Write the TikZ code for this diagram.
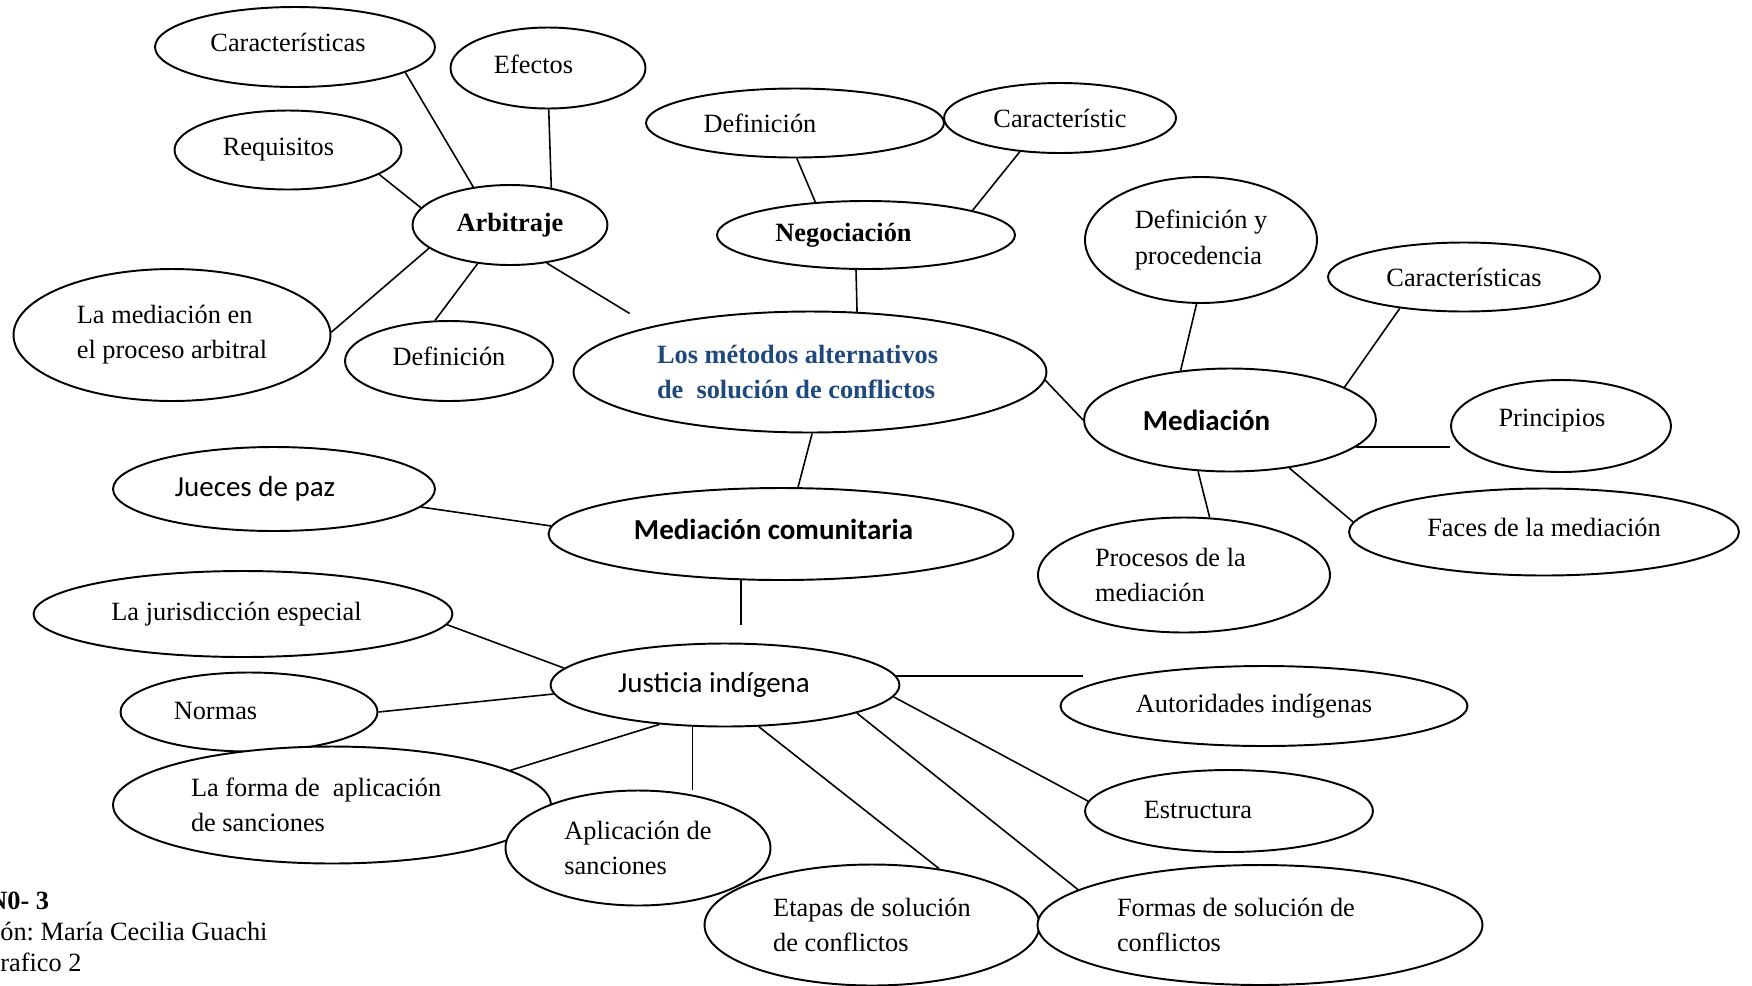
\documentclass[tikz,border=0pt]{standalone}
\usepackage{fontspec}
\setmainfont{Liberation Serif}
\newfontfamily\calibri{Carlito}
\usetikzlibrary{shapes.geometric}
\definecolor{titleblue}{HTML}{1F497D}
\frenchspacing

\begin{document}
\begin{tikzpicture}[
	x=0.02cm, y=-0.02cm,
	oval/.style = {
		ellipse,
		draw,
		fill=white,
		line width=1.1pt,
		inner sep=0pt,
		font=\fontsize{15}{20}\selectfont
	},
	two/.style = {oval, align=flush left},
	cal/.style = {font=\calibri\fontsize{16.5}{20}\selectfont},
	link/.style = {line width=0.9pt},
	note/.style = {anchor=base west, inner sep=0pt, font=\fontsize{15}{18}\selectfont},
]
	\useasboundingbox (0,0) rectangle (1752,985);

	% centro
	\node (cen) [oval, minimum width=9.46cm, minimum height=2.42cm, text width=6.12cm, align=flush left, text=titleblue,
		font=\bfseries\fontsize{15}{20}\selectfont] at (810,372) {Los métodos alternativos\\de~~solución de conflictos};

	% arbitraje
	\node (arb) [oval, minimum width=3.9cm, minimum height=1.6cm] at (510,225) {\bfseries Arbitraje};
	\node (car1) [oval, text depth=0.2cm, minimum width=5.6cm, minimum height=1.6cm] at (295,47) {Características\hspace*{0.28cm}};
	\node (efe) [oval, text depth=0.14cm, minimum width=3.9cm, minimum height=1.62cm] at (548,68) {Efectos\hspace*{0.58cm}};
	\node (req) [oval, minimum width=4.54cm, minimum height=1.58cm] at (288,150) {Requisitos\hspace*{0.38cm}};
	\node (medarb) [two, minimum width=6.34cm, minimum height=2.64cm] at (172,335) {La mediación en\\el proceso arbitral};
	\node (defa) [oval, text depth=0.2cm, minimum width=4.16cm, minimum height=1.6cm] at (449,361) {Definición};

	\draw[link] (car1.-13) -- (arb.134);
	\draw[link] (efe.-89) -- (arb.42);
	\draw[link] (req.-15) -- (arb.169);
	\draw[link] (arb.196) -- (medarb.1);
	\draw[link] (arb.230) -- (defa.109);
	\draw[link, shorten >=0.5cm] (arb.-46) -- (cen.164);

	% negociacion
	\node (neg) [oval, minimum width=5.96cm, minimum height=1.36cm] at (866,235) {\bfseries Negociación\hspace*{0.9cm}};
	\node (defn) [oval, minimum width=5.96cm, minimum height=1.38cm] at (795,123) {Definición\hspace*{1.4cm}};
	\node (carn) [oval, minimum width=4.64cm, minimum height=1.4cm] at (1060,118) {Característic};

	\draw[link] (defn.-87) -- (neg.147);
	\draw[link] (carn.220) -- (neg.13);
	\draw[link] (neg.-106) -- (cen.52);

	% mediacion
	\node (med) [oval, cal, minimum width=5.84cm, minimum height=2.06cm] at (1230,420) {\bfseries Mediación\hspace*{0.94cm}};
	\node (defm) [two, minimum width=4.64cm, minimum height=2.52cm] at (1201,240) {Definición y\\procedencia};
	\node (carm) [oval, minimum width=5.44cm, minimum height=1.38cm] at (1464,277) {Características};
	\node (pri) [oval, text depth=0.34cm, minimum width=4.4cm, minimum height=1.84cm] at (1561,426) {Principios\hspace*{0.36cm}};
	\node (fac) [oval, text depth=0.2cm, minimum width=7.8cm, minimum height=1.74cm] at (1544,532) {Faces de la mediación};
	\node (pro) [two, text width=3.56cm, minimum width=5.84cm, minimum height=2.3cm] at (1184,575) {Procesos de la\\mediación};

	\draw[link] (cen.-2) -- (med.west);
	\draw[link] (defm.-94) -- (med.135);
	\draw[link] (carm.206) -- (med.16);
	\draw[link] (med.-12) -- (med.-12 -| pri.west);
	\draw[link] (med.-39) -- (fac.177);
	\draw[link] (med.238) -- (pro.66);

	% mediacion comunitaria
	\node (com) [oval, cal, text depth=0.2cm, minimum width=9.3cm, minimum height=1.84cm] at (781,534) {\bfseries Mediación comunitaria\hspace*{0.3cm}};
	\node (jue) [oval, cal, minimum width=6.44cm, minimum height=1.68cm] at (274,489) {Jueces de paz\hspace*{0.76cm}};

	\draw[link] (cen.-88) -- (com.70);
	\draw[link] (jue.-7) -- (com.178);

	% justicia indigena
	\node (jus) [oval, cal, minimum width=6.98cm, minimum height=1.66cm] at (725,685) {Justicia indígena\hspace*{0.44cm}};
	\node (jur) [oval, minimum width=8.38cm, minimum height=1.72cm] at (243,614) {La jurisdicción especial\hspace*{0.26cm}};
	\node (nor) [oval, text depth=0.06cm, minimum width=5.14cm, minimum height=1.58cm] at (249,712) {Normas\hspace*{1.34cm}};
	\node (forma) [two, text width=5.64cm, minimum width=8.76cm, minimum height=2.34cm] at (332,805) {La forma de~~aplicación\\de sanciones};
	\node (apl) [two, minimum width=5.3cm, minimum height=2.3cm] at (638,848) {Aplicación de\\sanciones};
	\node (eta) [two, minimum width=6.7cm, minimum height=2.42cm] at (872,925) {Etapas de solución\\de conflictos};
	\node (for) [two, text width=5.72cm, minimum width=8.9cm, minimum height=2.4cm] at (1260,925) {Formas de solución de\\conflictos};
	\node (aut) [oval, minimum width=8.14cm, minimum height=1.6cm] at (1264,706) {Autoridades indígenas\hspace*{0.4cm}};
	\node (est) [oval, text depth=0.06cm, minimum width=5.76cm, minimum height=1.64cm] at (1229,811) {Estructura\hspace*{1.24cm}};

	\draw[link, shorten >=0.36cm] (com.229) -- (com.229 |- jus.north);
	\draw[link] (jur.-3) -- (jus.174);
	\draw[link] (nor.east) -- (jus.183);
	\draw[link] (forma.11) -- (jus.211);
	\draw[link] (jus.232) -- (jus.232 |- apl.north);
	\draw[link] (jus.-51) -- (eta.40);
	\draw[link] (jus.-12) -- (for.169);
	\draw[link] (jus.-4) -- (est.176);
	\draw[link] (jus.3) -- (jus.3 -| aut.174);

	% pie
	\node (fig) [note, font=\bfseries\fontsize{15}{18}\selectfont] at (-12,909) {N0- 3};
	\node (elab) [note] at (0,940) {ón: María Cecilia Guachi};
	\node (src) [note] at (0,971) {rafico 2};
\end{tikzpicture}
\end{document}
